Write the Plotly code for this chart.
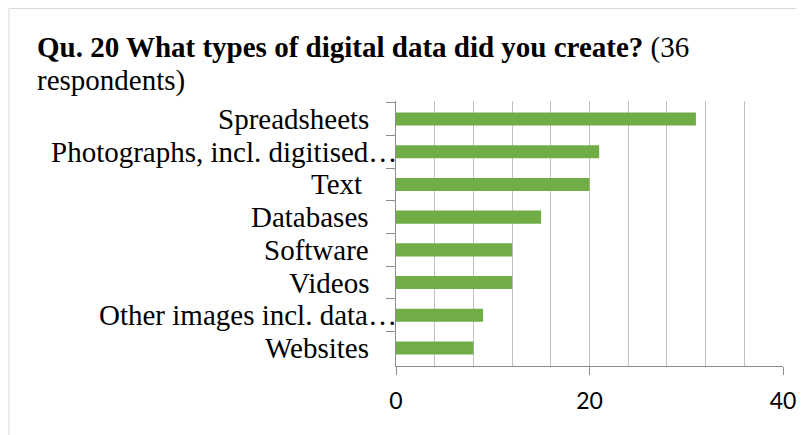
import plotly.graph_objects as go

categories = ["Spreadsheets", "Photographs, incl. digitised…", "Text ", "Databases",
              "Software", "Videos", "Other images incl. data…", "Websites"]
values = [31, 21, 20, 15, 12, 12, 9, 8]
x_tick_values = [0, 20, 40]
x_tick_labels = ["0", "20", "40"]
title_bold = "Qu. 20 What types of digital data did you create?"
title_rest = " (36"
title_line2 = "respondents)"

# The page body has an 8px margin; the figure is sized so it fits the 804x435 window.
OFF = 8
VW, VH = 804, 435
W, H = VW - OFF, VH - OFF
# plot area in window pixels: x 396..783, y 101..366
L, R, T, B = 396 - OFF, VW - 783, 101 - OFF, VH - 366
PW, PH = W - L - R, H - T - B

def px_x(px):
    return (px - OFF - L) / PW

def px_y(py):
    return (H - B - (py - OFF)) / PH

GRID = "#C0C0C0"
AXIS = "#8C8C8C"
SERIF = "Liberation Serif, Times New Roman, serif"
FS = 29

fig = go.Figure()
fig.add_trace(go.Bar(
    x=values, y=categories, orientation="h",
    marker=dict(color="#70AD47", line=dict(width=0)),
    hoverinfo="x+y",
))

annotations = []
for c in categories:
    truncated = c.endswith("…")
    right_px = 399 if truncated else 371
    annotations.append(dict(
        x=px_x(right_px), xref="paper", y=c, yref="y",
        text=c.replace(" ", "\u00a0") if c.endswith(" ") else c,
        xanchor="right", yanchor="middle", showarrow=False,
        font=dict(family=SERIF, size=FS, color="#000000"),
    ))

annotations.append(dict(
    x=px_x(35), xref="paper", y=px_y(47), yref="paper",
    text="<b>" + title_bold + "</b>" + title_rest,
    xanchor="left", yanchor="middle", showarrow=False,
    font=dict(family=SERIF, size=FS, color="#000000"),
))
annotations.append(dict(
    x=px_x(35), xref="paper", y=px_y(80), yref="paper",
    text=title_line2,
    xanchor="left", yanchor="middle", showarrow=False,
    font=dict(family=SERIF, size=FS, color="#000000"),
))

shapes = [dict(
    type="rect", xref="paper", yref="paper",
    x0=px_x(9), x1=px_x(VW + 20), y0=px_y(VH + 20), y1=px_y(8.5),
    line=dict(color="#D9D9D9", width=1), fillcolor="rgba(0,0,0,0)", layer="below",
)]

fig.update_layout(
    width=W, height=H,
    margin=dict(l=L, r=R, t=T, b=B, autoexpand=False),
    paper_bgcolor="white", plot_bgcolor="white",
    showlegend=False, bargap=0.6,
    annotations=annotations, shapes=shapes,
    xaxis=dict(
        range=[0, 40], tickmode="array", tickvals=x_tick_values, ticktext=x_tick_labels,
        ticks="outside", ticklen=8, tickcolor=AXIS, tickwidth=1,
        ticklabelstandoff=6,
        showgrid=True, gridcolor=GRID, gridwidth=1,
        minor=dict(dtick=4, showgrid=True, gridcolor=GRID, gridwidth=1, ticks=""),
        showline=True, linecolor=AXIS, linewidth=1, zeroline=False,
        tickfont=dict(family="Lato, Open Sans, sans-serif", size=23, color="#000000"),
        fixedrange=True,
    ),
    yaxis=dict(
        type="category", autorange="reversed",
        showticklabels=False, ticks="outside", tickson="boundaries", ticklen=9,
        tickcolor=AXIS, tickwidth=1,
        showgrid=False, showline=True, linecolor=AXIS, linewidth=1, zeroline=False,
        fixedrange=True,
    ),
)

fig.write_html("out.html")
